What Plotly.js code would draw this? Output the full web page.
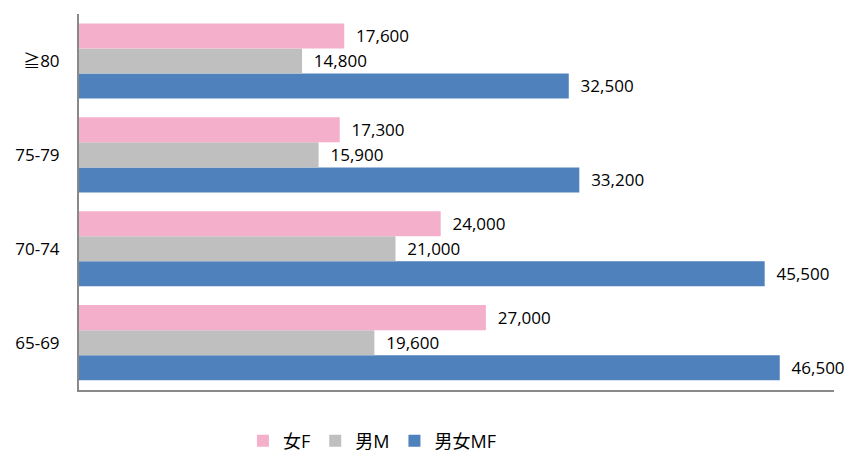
<!DOCTYPE html>
<html><head><meta charset="utf-8">
<script src="https://cdn.plot.ly/plotly-3.0.1.min.js"></script>
<style>body{margin:0;background:#fff}#c{width:849px;height:452px}</style>
</head><body><div id="c"></div>
<script>
const categories = ["65-69", "70-74", "75-79", "≧80"];
const seriesNames = ["女F", "男M", "男女MF"];
const female = [27000, 24000, 17300, 17600];
const male = [19600, 21000, 15900, 14800];
const both = [46500, 45500, 33200, 32500];
const colors = {F: "#F4AFCB", M: "#BFBFBF", MF: "#4F81BD"};
const fmt = v => "\u00a0\u00a0" + v.toLocaleString("en-US");
const font = "Open Sans, Liberation Sans, Noto Sans CJK JP, sans-serif";
function tr(name, vals, col){
  return {type:"bar", orientation:"h", name:name, y:categories, x:vals,
    marker:{color:col}, text:vals.map(fmt), textposition:"outside",
    textfont:{size:17, color:"#000", family:font}, cliponaxis:false,
    hoverinfo:"x+name"};
}
const data = [tr(seriesNames[2], both, colors.MF), tr(seriesNames[1], male, colors.M), tr(seriesNames[0], female, colors.F)];
const layout = {
  width:849, height:452, margin:{l:79, r:15, t:14, b:28},
  barmode:"group", bargap:0.2, bargroupgap:0,
  font:{family:font, size:17, color:"#000"},
  paper_bgcolor:"#fff", plot_bgcolor:"#fff",
  showlegend:true,
  legend:{orientation:"h", traceorder:"reversed", x:0.388, xanchor:"center", yref:"container", y:11/452, yanchor:"middle", font:{size:18}},
  xaxis:{range:[0,50100], showticklabels:false, showgrid:false, zeroline:false, showline:true, linecolor:"#898989", linewidth:2, ticks:""},
  yaxis:{type:"category", domain:[33/410, 1], showgrid:false, zeroline:false, showline:true, linecolor:"#898989", linewidth:2, ticks:"outside", ticklen:14, tickcolor:"rgba(0,0,0,0)", tickfont:{size:17}}
};
Plotly.newPlot("c", data, layout, {displayModeBar:false, staticPlot:true});
</script></body></html>
